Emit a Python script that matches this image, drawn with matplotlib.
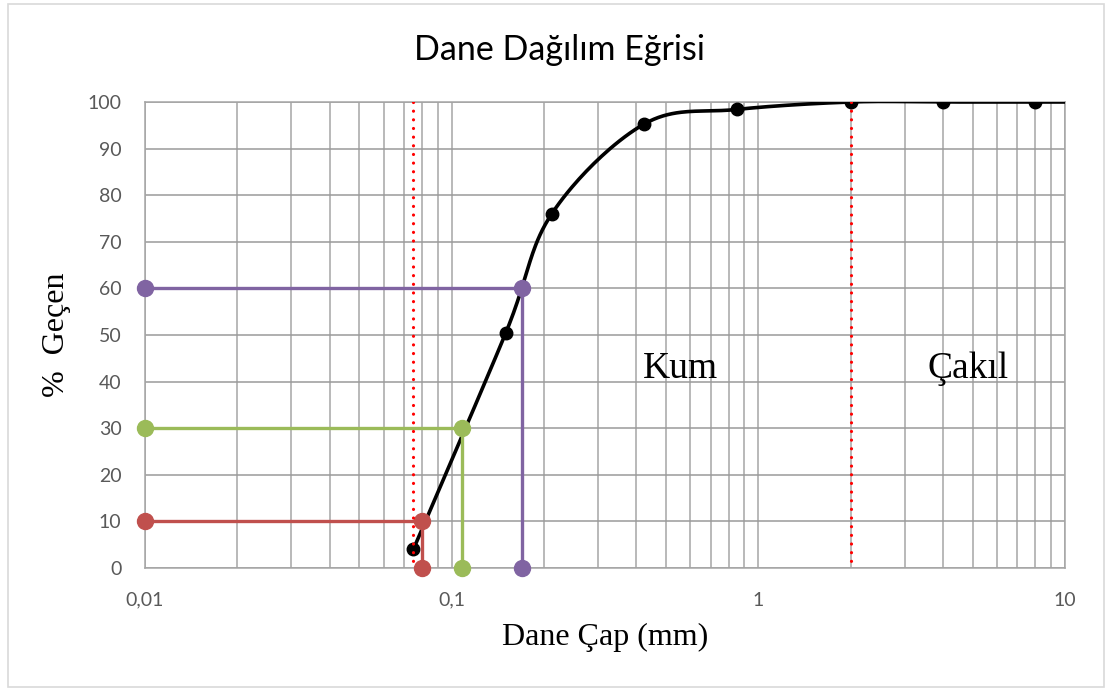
import numpy as np
import matplotlib
matplotlib.use("Agg")
import matplotlib.pyplot as plt
from matplotlib.patches import Rectangle
from matplotlib.ticker import LogLocator, NullFormatter

# sieve analysis: grain size (mm) vs percent passing
sieve_mm = [0.075, 0.15, 0.212, 0.425, 0.85, 2.0, 4.0, 8.0]
passing = [4.0, 50.4, 76.0, 95.3, 98.4, 100.0, 100.0, 100.0]
# curve continues past the last marked sieve (clipped at the axis edge)
curve_tail_mm = [16.0]
curve_tail_pass = [100.0]

# characteristic diameters D10, D30, D60
d_pct = [10, 30, 60]
d_mm = [0.08, 0.108, 0.17]
d_colors = ["#C0504D", "#9BBB59", "#8064A2"]

# sand / gravel boundaries
limits_mm = [0.075, 2.0]

xtick_vals = [0.01, 0.1, 1, 10]
xtick_labels = ["0,01", "0,1", "1", "10"]
ytick_vals = list(range(0, 101, 10))


def smooth(xs, ys, n=40):
    # Catmull-Rom style bezier through the points, done in log-x space
    P = np.column_stack([np.log10(xs), ys])
    out = []
    for i in range(len(P) - 1):
        p0 = P[i - 1] if i > 0 else P[i]
        p1, p2 = P[i], P[i + 1]
        p3 = P[i + 2] if i + 2 < len(P) else P[i + 1]
        c1 = p1 + (p2 - p0) / 6.0
        c2 = p2 - (p3 - p1) / 6.0
        t = np.linspace(0, 1, n)[:, None]
        seg = (1 - t)**3 * p1 + 3 * (1 - t)**2 * t * c1 + 3 * (1 - t) * t**2 * c2 + t**3 * p2
        out.append(seg if i == 0 else seg[1:])
    out = np.vstack(out)
    return 10**out[:, 0], out[:, 1]


fig = plt.figure(figsize=(11.05, 6.9), dpi=100)
ax = fig.add_axes([145/1105, 1 - 568/690, 920/1105, 466/690])

grid_col = "#A5A5A5"
ax.set_xscale("log")
ax.set_xlim(0.01, 10)
ax.set_ylim(0, 100)
ax.xaxis.set_minor_locator(LogLocator(base=10, subs=np.arange(2, 10)))
ax.xaxis.set_minor_formatter(NullFormatter())
ax.set_xticks(xtick_vals, labels=xtick_labels)
ax.set_yticks(ytick_vals)
ax.grid(True, which="both", axis="x", color=grid_col, lw=1.1)
ax.grid(True, which="major", axis="y", color="#9A9A9A", lw=1.1)
ax.set_axisbelow(True)
for s in ax.spines.values():
    s.set_color(grid_col)
    s.set_linewidth(1.1)
ax.tick_params(which="both", length=0)
ax.tick_params(axis="x", pad=17, labelsize=14, labelcolor="#595959")
ax.tick_params(axis="y", pad=17, labelsize=14, labelcolor="#595959")
for lab in ax.get_xticklabels() + ax.get_yticklabels():
    lab.set_fontfamily("Lato")

# gradation curve
cx, cy = smooth(sieve_mm + curve_tail_mm, passing + curve_tail_pass)
ax.plot(cx, cy, color="black", lw=2.6, zorder=3)
ax.plot(sieve_mm, passing, "o", color="black", ms=9, zorder=4)

# D10 / D30 / D60 read-off lines
for p, d, c in zip(d_pct, d_mm, d_colors):
    ax.plot([0.01, d, d], [p, p, 0], color=c, lw=2.4, marker="o", ms=11.5,
            clip_on=False, zorder=5)

# sand / gravel limits, round dots
for lim in limits_mm:
    ax.plot([lim, lim], [100, 0], color="red", lw=2.3,
            linestyle=(0, (0.01, 2.7)), dash_capstyle="round", zorder=6)

ax.text(0.541, 0.408, "Kum", transform=ax.transAxes, fontsize=27,
        family="Liberation Serif", ha="left", va="baseline")
ax.text(0.851, 0.408, "Çakıl", transform=ax.transAxes, fontsize=27,
        family="Liberation Serif", ha="left", va="baseline")

ax.set_xlabel("Dane Çap (mm)", fontsize=23, family="Liberation Serif", labelpad=10)
ax.set_ylabel("%  Geçen", fontsize=23, family="Liberation Serif", labelpad=12)

fig.text(0.506, 1 - 50/690, "Dane Dağılım Eğrisi", fontsize=24.5, family="Lato",
         ha="center", va="center")

fig.patches.append(Rectangle((8/1105, 3/690), 1096/1105, 683/690,
                             transform=fig.transFigure, fill=False,
                             edgecolor="#D9D9D9", lw=1.2))

fig.savefig("out.png", dpi=100)
